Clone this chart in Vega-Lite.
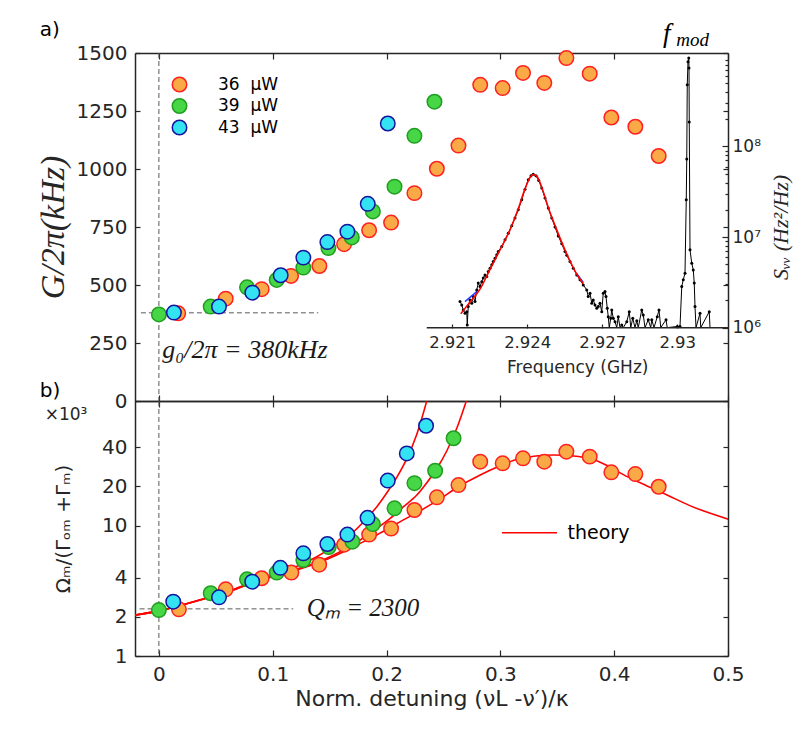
{
  "$schema": "https://vega.github.io/schema/vega-lite/v6.json",
  "background": "white",
  "autosize": {"type": "pad"},
  "padding": {"left": 36, "top": 19, "right": 5, "bottom": 5},
  "datasets": {
    "gain": [
      {"series": "36 μW", "x": 0.017, "g": 378}, {"series": "36 μW", "x": 0.0587, "g": 441},
      {"series": "36 μW", "x": 0.0903, "g": 482}, {"series": "36 μW", "x": 0.1161, "g": 539},
      {"series": "36 μW", "x": 0.141, "g": 582}, {"series": "36 μW", "x": 0.1627, "g": 676},
      {"series": "36 μW", "x": 0.1847, "g": 736}, {"series": "36 μW", "x": 0.204, "g": 769},
      {"series": "36 μW", "x": 0.2245, "g": 896}, {"series": "36 μW", "x": 0.2442, "g": 1001},
      {"series": "36 μW", "x": 0.2632, "g": 1101}, {"series": "36 μW", "x": 0.2823, "g": 1363},
      {"series": "36 μW", "x": 0.302, "g": 1349}, {"series": "36 μW", "x": 0.3199, "g": 1414},
      {"series": "36 μW", "x": 0.3386, "g": 1371}, {"series": "36 μW", "x": 0.358, "g": 1478},
      {"series": "36 μW", "x": 0.3785, "g": 1411}, {"series": "36 μW", "x": 0.3975, "g": 1222},
      {"series": "36 μW", "x": 0.4186, "g": 1182}, {"series": "36 μW", "x": 0.4391, "g": 1056},
      {"series": "39 μW", "x": 0.0, "g": 373}, {"series": "39 μW", "x": 0.0455, "g": 407},
      {"series": "39 μW", "x": 0.0774, "g": 490}, {"series": "39 μW", "x": 0.1035, "g": 522},
      {"series": "39 μW", "x": 0.1269, "g": 575}, {"series": "39 μW", "x": 0.1489, "g": 659},
      {"series": "39 μW", "x": 0.1695, "g": 705}, {"series": "39 μW", "x": 0.188, "g": 817},
      {"series": "39 μW", "x": 0.207, "g": 924}, {"series": "39 μW", "x": 0.2245, "g": 1143},
      {"series": "39 μW", "x": 0.2421, "g": 1290},
      {"series": "43 μW", "x": 0.0132, "g": 381}, {"series": "43 μW", "x": 0.0528, "g": 407},
      {"series": "43 μW", "x": 0.0821, "g": 467}, {"series": "43 μW", "x": 0.107, "g": 542},
      {"series": "43 μW", "x": 0.1269, "g": 618}, {"series": "43 μW", "x": 0.148, "g": 685},
      {"series": "43 μW", "x": 0.1656, "g": 730}, {"series": "43 μW", "x": 0.1835, "g": 850},
      {"series": "43 μW", "x": 0.2011, "g": 1196}
    ],
    "quality": [
      {"series": "36 μW", "x": 0.0176, "q": 2.28}, {"series": "36 μW", "x": 0.0587, "q": 3.25},
      {"series": "36 μW", "x": 0.0903, "q": 3.95}, {"series": "36 μW", "x": 0.1164, "q": 4.37},
      {"series": "36 μW", "x": 0.1408, "q": 5.02}, {"series": "36 μW", "x": 0.1628, "q": 7.15},
      {"series": "36 μW", "x": 0.1847, "q": 8.55}, {"series": "36 μW", "x": 0.204, "q": 9.5},
      {"series": "36 μW", "x": 0.2245, "q": 13.2}, {"series": "36 μW", "x": 0.2442, "q": 16.5},
      {"series": "36 μW", "x": 0.2632, "q": 20.5}, {"series": "36 μW", "x": 0.2823, "q": 31.0},
      {"series": "36 μW", "x": 0.302, "q": 30.1}, {"series": "36 μW", "x": 0.3199, "q": 32.9},
      {"series": "36 μW", "x": 0.3386, "q": 31.0}, {"series": "36 μW", "x": 0.358, "q": 37.0},
      {"series": "36 μW", "x": 0.3785, "q": 33.9}, {"series": "36 μW", "x": 0.3975, "q": 25.7},
      {"series": "36 μW", "x": 0.4186, "q": 24.9}, {"series": "36 μW", "x": 0.4391, "q": 19.9},
      {"series": "39 μW", "x": 0.0, "q": 2.25}, {"series": "39 μW", "x": 0.0455, "q": 3.03},
      {"series": "39 μW", "x": 0.0774, "q": 3.88}, {"series": "39 μW", "x": 0.1035, "q": 4.37},
      {"series": "39 μW", "x": 0.1269, "q": 5.45}, {"series": "39 μW", "x": 0.1492, "q": 6.85},
      {"series": "39 μW", "x": 0.17, "q": 7.54}, {"series": "39 μW", "x": 0.188, "q": 10.3},
      {"series": "39 μW", "x": 0.207, "q": 13.6}, {"series": "39 μW", "x": 0.2245, "q": 21.2},
      {"series": "39 μW", "x": 0.2427, "q": 26.4}, {"series": "39 μW", "x": 0.2589, "q": 46.9},
      {"series": "43 μW", "x": 0.0126, "q": 2.61}, {"series": "43 μW", "x": 0.0528, "q": 2.82},
      {"series": "43 μW", "x": 0.082, "q": 3.72}, {"series": "43 μW", "x": 0.1067, "q": 4.75},
      {"series": "43 μW", "x": 0.1269, "q": 6.14}, {"series": "43 μW", "x": 0.148, "q": 7.24},
      {"series": "43 μW", "x": 0.1656, "q": 8.55}, {"series": "43 μW", "x": 0.1833, "q": 11.5},
      {"series": "43 μW", "x": 0.2011, "q": 22.2}, {"series": "43 μW", "x": 0.2178, "q": 35.9},
      {"series": "43 μW", "x": 0.2347, "q": 58.5}
    ],
    "theory": [
      {"curve": "36 μW", "x": -0.0211, "q": 2.06}, {"curve": "36 μW", "x": 0.0, "q": 2.22},
      {"curve": "36 μW", "x": 0.0361, "q": 2.69}, {"curve": "36 μW", "x": 0.0654, "q": 3.21},
      {"curve": "36 μW", "x": 0.0888, "q": 3.83}, {"curve": "36 μW", "x": 0.1035, "q": 4.13},
      {"curve": "36 μW", "x": 0.1211, "q": 4.57}, {"curve": "36 μW", "x": 0.1387, "q": 5.14},
      {"curve": "36 μW", "x": 0.1563, "q": 5.96}, {"curve": "36 μW", "x": 0.1739, "q": 7.11},
      {"curve": "36 μW", "x": 0.1915, "q": 8.49}, {"curve": "36 μW", "x": 0.2091, "q": 10.4},
      {"curve": "36 μW", "x": 0.2266, "q": 12.6}, {"curve": "36 μW", "x": 0.2442, "q": 15.5},
      {"curve": "36 μW", "x": 0.2632, "q": 19.9}, {"curve": "36 μW", "x": 0.2823, "q": 24.5},
      {"curve": "36 μW", "x": 0.2999, "q": 28.8}, {"curve": "36 μW", "x": 0.3146, "q": 32.4},
      {"curve": "36 μW", "x": 0.3292, "q": 34.1}, {"curve": "36 μW", "x": 0.3468, "q": 34.9},
      {"curve": "36 μW", "x": 0.3644, "q": 34.3}, {"curve": "36 μW", "x": 0.3791, "q": 32.6},
      {"curve": "36 μW", "x": 0.3938, "q": 29.0}, {"curve": "36 μW", "x": 0.4114, "q": 23.8},
      {"curve": "36 μW", "x": 0.4289, "q": 20.2}, {"curve": "36 μW", "x": 0.4465, "q": 17.2},
      {"curve": "36 μW", "x": 0.467, "q": 14.2}, {"curve": "36 μW", "x": 0.5007, "q": 11.2},
      {"curve": "39 μW", "x": -0.0211, "q": 2.06}, {"curve": "39 μW", "x": 0.0, "q": 2.22},
      {"curve": "39 μW", "x": 0.0361, "q": 2.69}, {"curve": "39 μW", "x": 0.0654, "q": 3.21},
      {"curve": "39 μW", "x": 0.0888, "q": 3.85}, {"curve": "39 μW", "x": 0.1035, "q": 4.18},
      {"curve": "39 μW", "x": 0.1181, "q": 4.57}, {"curve": "39 μW", "x": 0.1328, "q": 4.99},
      {"curve": "39 μW", "x": 0.1475, "q": 5.62}, {"curve": "39 μW", "x": 0.1621, "q": 6.51},
      {"curve": "39 μW", "x": 0.1768, "q": 7.77}, {"curve": "39 μW", "x": 0.1915, "q": 9.55},
      {"curve": "39 μW", "x": 0.2032, "q": 11.4}, {"curve": "39 μW", "x": 0.2149, "q": 14.0},
      {"curve": "39 μW", "x": 0.2266, "q": 17.2}, {"curve": "39 μW", "x": 0.2354, "q": 21.4},
      {"curve": "39 μW", "x": 0.2442, "q": 27.5}, {"curve": "39 μW", "x": 0.253, "q": 37.6},
      {"curve": "39 μW", "x": 0.2618, "q": 56.2}, {"curve": "39 μW", "x": 0.2706, "q": 93.3},
      {"curve": "43 μW", "x": -0.0211, "q": 2.06}, {"curve": "43 μW", "x": 0.0, "q": 2.22},
      {"curve": "43 μW", "x": 0.0361, "q": 2.7}, {"curve": "43 μW", "x": 0.0654, "q": 3.24},
      {"curve": "43 μW", "x": 0.0888, "q": 3.9}, {"curve": "43 μW", "x": 0.1093, "q": 4.44},
      {"curve": "43 μW", "x": 0.124, "q": 4.99}, {"curve": "43 μW", "x": 0.1387, "q": 5.78},
      {"curve": "43 μW", "x": 0.1533, "q": 6.9}, {"curve": "43 μW", "x": 0.168, "q": 8.49},
      {"curve": "43 μW", "x": 0.1827, "q": 11.4}, {"curve": "43 μW", "x": 0.1915, "q": 14.0},
      {"curve": "43 μW", "x": 0.2003, "q": 17.9}, {"curve": "43 μW", "x": 0.2091, "q": 23.6},
      {"curve": "43 μW", "x": 0.2179, "q": 32.9}, {"curve": "43 μW", "x": 0.2266, "q": 50.4},
      {"curve": "43 μW", "x": 0.236, "q": 95.0}
    ],
    "spectrum": [
      {"f": 2.92131, "s": 1.94e6}, {"f": 2.92138, "s": 1.78e6}, {"f": 2.92144, "s": 1.57e6},
      {"f": 2.92151, "s": 1.44e6}, {"f": 2.92158, "s": 1.5e6}, {"f": 2.9216, "s": 1.07e6},
      {"f": 2.92164, "s": 1.71e6}, {"f": 2.92171, "s": 2.02e6}, {"f": 2.92178, "s": 1.86e6},
      {"f": 2.92184, "s": 2.2e6}, {"f": 2.92191, "s": 1.94e6}, {"f": 2.92198, "s": 2.61e6},
      {"f": 2.92204, "s": 3.1e6}, {"f": 2.92211, "s": 2.84e6}, {"f": 2.92218, "s": 3.22e6},
      {"f": 2.92224, "s": 3.52e6}, {"f": 2.92231, "s": 3.82e6}, {"f": 2.92238, "s": 3.66e6},
      {"f": 2.92244, "s": 4.16e6}, {"f": 2.92251, "s": 4.53e6}, {"f": 2.92258, "s": 4.93e6},
      {"f": 2.92264, "s": 5.36e6}, {"f": 2.92271, "s": 5.84e6}, {"f": 2.92278, "s": 6.36e6},
      {"f": 2.92284, "s": 6.92e6}, {"f": 2.92298, "s": 7.85e6}, {"f": 2.92311, "s": 9.31e6},
      {"f": 2.92324, "s": 1.1e7}, {"f": 2.92338, "s": 1.33e7}, {"f": 2.92351, "s": 1.62e7},
      {"f": 2.92364, "s": 2.0e7}, {"f": 2.92378, "s": 2.58e7}, {"f": 2.92391, "s": 3.38e7},
      {"f": 2.92404, "s": 4.29e7}, {"f": 2.92415, "s": 4.75e7}, {"f": 2.92424, "s": 4.95e7},
      {"f": 2.92435, "s": 4.75e7}, {"f": 2.92446, "s": 4.21e7}, {"f": 2.92458, "s": 3.47e7},
      {"f": 2.92471, "s": 2.69e7}, {"f": 2.92484, "s": 2.09e7}, {"f": 2.92498, "s": 1.62e7},
      {"f": 2.92511, "s": 1.29e7}, {"f": 2.92524, "s": 1.03e7}, {"f": 2.92538, "s": 8.41e6},
      {"f": 2.92551, "s": 6.92e6}, {"f": 2.92558, "s": 6.3e6}, {"f": 2.92571, "s": 5.36e6},
      {"f": 2.92584, "s": 4.53e6}, {"f": 2.92598, "s": 3.82e6}, {"f": 2.92611, "s": 3.37e6},
      {"f": 2.92624, "s": 2.96e6}, {"f": 2.92638, "s": 2.61e6}, {"f": 2.92644, "s": 2.2e6},
      {"f": 2.92651, "s": 2.4e6}, {"f": 2.92658, "s": 1.86e6}, {"f": 2.92664, "s": 2.02e6},
      {"f": 2.92671, "s": 1.78e6}, {"f": 2.92678, "s": 1.64e6}, {"f": 2.92684, "s": 1.71e6},
      {"f": 2.92691, "s": 1.86e6}, {"f": 2.92698, "s": 1.5e6}, {"f": 2.92704, "s": 2.4e6},
      {"f": 2.92711, "s": 2.5e6}, {"f": 2.92715, "s": 2.2e6}, {"f": 2.9272, "s": 1.64e6},
      {"f": 2.92724, "s": 1.32e6}, {"f": 2.92728, "s": 1.0e6}, {"f": 2.92734, "s": 1.27e6},
      {"f": 2.92738, "s": 1.57e6}, {"f": 2.92744, "s": 1.27e6}, {"f": 2.92751, "s": 1.16e6},
      {"f": 2.92758, "s": 1.0e6}, {"f": 2.92764, "s": 1.32e6}, {"f": 2.92771, "s": 1.0e6},
      {"f": 2.92778, "s": 1.07e6}, {"f": 2.92784, "s": 1.0e6}, {"f": 2.92798, "s": 1.16e6},
      {"f": 2.92808, "s": 1.5e6}, {"f": 2.92814, "s": 1.0e6}, {"f": 2.92822, "s": 1.27e6},
      {"f": 2.92831, "s": 1.0e6}, {"f": 2.92838, "s": 1.19e6}, {"f": 2.92844, "s": 1.0e6},
      {"f": 2.92858, "s": 1.57e6}, {"f": 2.92864, "s": 1.38e6}, {"f": 2.92871, "s": 1.0e6},
      {"f": 2.92884, "s": 1.22e6}, {"f": 2.92894, "s": 1.0e6}, {"f": 2.92898, "s": 1.22e6},
      {"f": 2.92907, "s": 1.0e6}, {"f": 2.9292, "s": 1.32e6}, {"f": 2.92927, "s": 1.57e6},
      {"f": 2.92934, "s": 1.0e6}, {"f": 2.92955, "s": 1.22e6}, {"f": 2.9296, "s": 1.0e6},
      {"f": 2.93, "s": 1.03e6}, {"f": 2.93011, "s": 1.03e6}, {"f": 2.93018, "s": 2.84e6},
      {"f": 2.93024, "s": 3.37e6}, {"f": 2.93031, "s": 3.99e6}, {"f": 2.93036, "s": 2.58e7},
      {"f": 2.93038, "s": 7.26e7}, {"f": 2.9304, "s": 4.81e8}, {"f": 2.93043, "s": 8.63e8},
      {"f": 2.93046, "s": 9.48e8}, {"f": 2.93047, "s": 7.35e8}, {"f": 2.93048, "s": 1.86e8},
      {"f": 2.93051, "s": 7.22e6}, {"f": 2.93058, "s": 5.15e6}, {"f": 2.93064, "s": 4.34e6},
      {"f": 2.93068, "s": 3.1e6}, {"f": 2.93071, "s": 1.71e6}, {"f": 2.93075, "s": 1.0e6},
      {"f": 2.93091, "s": 1.44e6}, {"f": 2.93094, "s": 1.0e6}, {"f": 2.93128, "s": 1.5e6},
      {"f": 2.93131, "s": 1.0e6}
    ],
    "fit": [
      {"f": 2.92134, "s": 1.42e6}, {"f": 2.92171, "s": 1.92e6}, {"f": 2.92211, "s": 2.66e6},
      {"f": 2.92251, "s": 4.4e6}, {"f": 2.92291, "s": 7.22e6}, {"f": 2.92331, "s": 1.2e7},
      {"f": 2.92364, "s": 2.05e7}, {"f": 2.92391, "s": 3.4e7}, {"f": 2.92411, "s": 4.55e7},
      {"f": 2.92424, "s": 4.9e7}, {"f": 2.92438, "s": 4.7e7}, {"f": 2.92458, "s": 3.55e7},
      {"f": 2.92484, "s": 2.12e7}, {"f": 2.92518, "s": 1.2e7}, {"f": 2.92558, "s": 6.5e6},
      {"f": 2.92598, "s": 3.9e6}, {"f": 2.92624, "s": 3.05e6}
    ],
    "fitBlue": [
      {"seg": "low", "f": 2.92151, "s": 1.94e6}, {"seg": "low", "f": 2.92198, "s": 2.5e6},
      {"seg": "high", "f": 2.92598, "s": 3.95e6}, {"seg": "high", "f": 2.92624, "s": 3.15e6}
    ]
  },
  "vconcat": [
    {
      "width": 593,
      "height": 348,
      "layer": [
        {
          "layer": [
            {
              "data": {"values": [{}]},
              "mark": {"type": "rule", "color": "#5a5a5a", "strokeDash": [5, 3], "strokeWidth": 1},
              "encoding": {
                "x": {"datum": -0.0158, "type": "quantitative",
                      "axis": {"orient": "top", "values": [0, 0.1, 0.2, 0.3, 0.4, 0.5], "labels": false, "tickSize": -6, "title": null}},
                "x2": {"datum": 0.14},
                "y": {"datum": 380, "type": "quantitative",
                      "axis": {"orient": "right", "values": [0, 250, 500, 750, 1000, 1250, 1500], "labels": false, "tickSize": -5, "title": null}}
              }
            },
            {
              "data": {"values": [{}]},
              "mark": {"type": "rule", "color": "#5a5a5a", "strokeDash": [5, 3], "strokeWidth": 1},
              "encoding": {"x": {"datum": 0, "type": "quantitative", "axis": null}}
            },
            {
              "data": {"name": "gain"},
              "mark": {"type": "point", "filled": true, "size": 210, "strokeWidth": 1.5, "opacity": 1},
              "encoding": {
                "x": {"field": "x", "type": "quantitative",
                      "scale": {"domain": [-0.021, 0.5], "nice": false, "zero": false},
                      "axis": {"orient": "bottom", "values": [0, 0.1, 0.2, 0.3, 0.4, 0.5], "labels": false, "tickSize": -6, "title": null}},
                "y": {"field": "g", "type": "quantitative",
                      "scale": {"domain": [0, 1500], "nice": false},
                      "axis": {"orient": "left", "values": [0, 250, 500, 750, 1000, 1250, 1500], "format": "d",
                               "tickSize": -5, "labelPadding": 13, "labelFlush": false,
                               "title": "G/2π(kHz)", "titleFont": "Liberation Serif", "titleFontStyle": "italic",
                               "titleFontSize": 34, "titlePadding": 6}},
                "color": {"field": "series", "type": "nominal",
                          "scale": {"domain": ["36 μW", "39 μW", "43 μW"], "range": ["#f9a945", "#46d646", "#33e3f2"]},
                          "legend": {"orient": "none", "legendX": 36, "legendY": 23, "title": null, "padding": 0,
                                     "labelFontSize": 17, "labelColor": "#000", "symbolSize": 210, "symbolStrokeWidth": 1.5,
                                     "rowPadding": 0.5, "labelOffset": 30,
                                     "labelExpr": "replace(datum.label, ' ', '\u00a0\u00a0')"}},
                "stroke": {"field": "series", "type": "nominal",
                           "scale": {"domain": ["36 μW", "39 μW", "43 μW"], "range": ["#ff2020", "#1f9e1f", "#14149e"]},
                           "legend": {"orient": "none", "legendX": 36, "legendY": 23, "title": null, "padding": 0,
                                      "labelFontSize": 17, "labelColor": "#000", "symbolSize": 210, "symbolStrokeWidth": 1.5,
                                      "rowPadding": 0.5, "labelOffset": 30,
                                      "labelExpr": "replace(datum.label, ' ', '\u00a0\u00a0')"}}
              }
            },
            {
              "data": {"values": [{}]},
              "mark": {"type": "text", "text": "g₀/2π = 380kHz", "font": "Liberation Serif", "fontStyle": "italic",
                       "fontSize": 26, "align": "left", "baseline": "middle", "color": "#1a1a1a"},
              "encoding": {"x": {"datum": 0.003, "type": "quantitative", "axis": null},
                           "y": {"datum": 220, "type": "quantitative", "axis": null}}
            },
            {
              "data": {"values": [{}]},
              "mark": {"type": "text", "text": "a)", "fontSize": 20, "align": "left", "baseline": "middle", "color": "#000"},
              "encoding": {"x": {"datum": -0.1047, "type": "quantitative", "axis": null},
                           "y": {"datum": 1600, "type": "quantitative", "axis": null}}
            },
            {
              "data": {"values": [{}]},
              "mark": {"type": "text", "text": "b)", "fontSize": 20, "align": "left", "baseline": "middle", "color": "#000"},
              "encoding": {"x": {"datum": -0.1047, "type": "quantitative", "axis": null},
                           "y": {"datum": 45, "type": "quantitative", "axis": null}}
            }
          ],
          "resolve": {"axis": {"x": "independent", "y": "independent"}}
        },
        {
          "layer": [
            {
              "data": {"name": "spectrum"},
              "mark": {"type": "line", "color": "#000", "strokeWidth": 1},
              "encoding": {
                "x": {"field": "f", "type": "quantitative",
                      "scale": {"domain": [2.90831, 2.93203], "nice": false, "zero": false},
                      "axis": {"orient": "bottom", "offset": -73, "values": [2.921, 2.924, 2.927, 2.93], "format": ".4~r",
                               "domain": false, "tickSize": -4, "labelFontSize": 16.5, "labelPadding": 10, "labelFlush": false, "title": null}},
                "y": {"field": "s", "type": "quantitative",
                      "scale": {"type": "log", "domain": [154900, 1076000000], "nice": false},
                      "axis": {"orient": "right", "values": [1000000, 10000000, 100000000], "domain": false,
                               "labelExpr": "datum.value < 5e6 ? '10⁶' : datum.value < 5e7 ? '10⁷' : '10⁸'",
                               "tickSize": -6, "labelFontSize": 17, "labelPadding": 10,
                               "title": "Sᵥᵥ (Hz²/Hz)", "titleFont": "Liberation Serif", "titleFontStyle": "italic",
                               "titleFontSize": 22, "titleAngle": 270, "titleBaseline": "top", "titlePadding": 10}}
              }
            },
            {
              "data": {"name": "spectrum"},
              "transform": [{"filter": "datum.s > 1000000"}],
              "mark": {"type": "circle", "color": "#000", "size": 9, "opacity": 1},
              "encoding": {
                "x": {"field": "f", "type": "quantitative", "axis": null},
                "y": {"field": "s", "type": "quantitative", "axis": null}
              }
            },
            {
              "data": {"name": "fitBlue"},
              "mark": {"type": "line", "color": "#1f3cff", "strokeWidth": 1.5},
              "encoding": {
                "x": {"field": "f", "type": "quantitative", "axis": null},
                "y": {"field": "s", "type": "quantitative", "axis": null},
                "detail": {"field": "seg"}
              }
            },
            {
              "data": {"name": "fit"},
              "mark": {"type": "line", "color": "#ff0000", "strokeWidth": 1.6, "interpolate": "monotone"},
              "encoding": {
                "x": {"field": "f", "type": "quantitative", "axis": null},
                "y": {"field": "s", "type": "quantitative",
                      "axis": {"orient": "right", "domain": false, "labels": false, "tickSize": -3, "title": null,
                               "values": [2000000, 3000000, 4000000, 5000000, 6000000, 7000000, 8000000, 9000000,
                                          20000000, 30000000, 40000000, 50000000, 60000000, 70000000, 80000000, 90000000,
                                          200000000, 300000000, 400000000, 500000000, 600000000, 700000000, 800000000, 900000000]}}
              }
            },
            {
              "data": {"values": [{}]},
              "mark": {"type": "rule", "color": "#262626", "strokeWidth": 1.5},
              "encoding": {
                "x": {"datum": 2.91998, "type": "quantitative", "axis": null},
                "x2": {"datum": 2.93203},
                "y": {"datum": 1000000, "type": "quantitative", "axis": null}
              }
            },
            {
              "data": {"values": [{}]},
              "mark": {"type": "text", "text": "Frequency (GHz)", "fontSize": 17, "align": "center", "baseline": "middle", "color": "#262626"},
              "encoding": {"x": {"datum": 2.92602, "type": "quantitative", "axis": null},
                           "y": {"datum": 359000, "type": "quantitative", "axis": null}}
            },
            {
              "data": {"values": [{}]},
              "mark": {"type": "text", "text": "f", "font": "Liberation Serif", "fontStyle": "italic", "fontSize": 27,
                       "align": "left", "baseline": "alphabetic", "color": "#000"},
              "encoding": {"x": {"datum": 2.92943, "type": "quantitative", "axis": null},
                           "y": {"datum": 1435000000, "type": "quantitative", "axis": null}}
            },
            {
              "data": {"values": [{}]},
              "mark": {"type": "text", "text": "mod", "font": "Liberation Serif", "fontStyle": "italic", "fontSize": 19,
                       "align": "left", "baseline": "alphabetic", "color": "#000"},
              "encoding": {"x": {"datum": 2.92996, "type": "quantitative", "axis": null},
                           "y": {"datum": 1280000000, "type": "quantitative", "axis": null}}
            }
          ],
          "resolve": {"axis": {"x": "independent", "y": "independent"}}
        }
      ],
      "resolve": {"scale": {"x": "independent", "y": "independent"}, "axis": {"x": "independent", "y": "independent"}}
    },
    {
      "width": 593,
      "height": 255,
      "layer": [
        {
          "data": {"values": [{}]},
          "mark": {"type": "rule", "color": "#5a5a5a", "strokeDash": [5, 3], "strokeWidth": 1},
          "encoding": {
            "x": {"datum": -0.017, "type": "quantitative",
                  "axis": {"orient": "top", "values": [0, 0.1, 0.2, 0.3, 0.4, 0.5], "labels": false, "tickSize": -6, "title": null}},
            "x2": {"datum": 0.118},
            "y": {"datum": 2.3, "type": "quantitative",
                  "axis": {"orient": "right", "values": [1, 2, 4, 10, 20, 40], "labels": false, "tickSize": -5, "title": null}}
          }
        },
        {
          "data": {"values": [{}]},
          "mark": {"type": "rule", "color": "#5a5a5a", "strokeDash": [5, 3], "strokeWidth": 1},
          "encoding": {"x": {"datum": 0, "type": "quantitative", "axis": null}}
        },
        {
          "data": {"name": "theory"},
          "mark": {"type": "line", "color": "#ff0000", "strokeWidth": 1.6, "interpolate": "monotone", "clip": true},
          "encoding": {
            "x": {"field": "x", "type": "quantitative", "axis": null},
            "y": {"field": "q", "type": "quantitative", "axis": null},
            "detail": {"field": "curve"}
          }
        },
        {
          "data": {"name": "quality"},
          "mark": {"type": "point", "filled": true, "size": 210, "strokeWidth": 1.5, "opacity": 1},
          "encoding": {
            "x": {"field": "x", "type": "quantitative",
                  "scale": {"domain": [-0.021, 0.5], "nice": false, "zero": false},
                  "axis": {"orient": "bottom", "values": [0, 0.1, 0.2, 0.3, 0.4, 0.5], "format": "~g",
                           "tickSize": -6, "labelPadding": 14, "labelFlush": false,
                           "title": "Norm. detuning (νL -ν′)/κ", "titleFontSize": 22, "titlePadding": 4}},
            "y": {"field": "q", "type": "quantitative",
                  "scale": {"type": "log", "domain": [1, 90.6], "nice": false},
                  "axis": {"orient": "left", "values": [1, 2, 4, 10, 20, 40], "format": "~g",
                           "tickSize": -5, "labelPadding": 13, "labelFlush": false,
                           "title": "Ωₘ/(Γₒₘ +Γₘ)", "titleFontSize": 20, "titlePadding": 28}},
            "color": {"field": "series", "type": "nominal",
                      "scale": {"domain": ["36 μW", "39 μW", "43 μW"], "range": ["#f9a945", "#46d646", "#33e3f2"]},
                      "legend": null},
            "stroke": {"field": "series", "type": "nominal",
                       "scale": {"domain": ["36 μW", "39 μW", "43 μW"], "range": ["#ff2020", "#1f9e1f", "#14149e"]},
                       "legend": null}
          }
        },
        {
          "data": {"values": [{}]},
          "mark": {"type": "text", "text": "Qₘ = 2300", "font": "Liberation Serif", "fontStyle": "italic",
                   "fontSize": 25, "align": "left", "baseline": "middle", "color": "#1a1a1a"},
          "encoding": {"x": {"datum": 0.13, "type": "quantitative", "axis": null},
                       "y": {"datum": 2.33, "type": "quantitative", "axis": null}}
        },
        {
          "data": {"values": [{}]},
          "mark": {"type": "rule", "color": "#ff0000", "strokeWidth": 1.6},
          "encoding": {"x": {"datum": 0.3014, "type": "quantitative", "axis": null},
                       "x2": {"datum": 0.3498},
                       "y": {"datum": 8.84, "type": "quantitative", "axis": null}}
        },
        {
          "data": {"values": [{}]},
          "mark": {"type": "text", "text": "theory", "fontSize": 19, "align": "left", "baseline": "middle", "color": "#000"},
          "encoding": {"x": {"datum": 0.359, "type": "quantitative", "axis": null},
                       "y": {"datum": 8.84, "type": "quantitative", "axis": null}}
        },
        {
          "data": {"values": [{}]},
          "mark": {"type": "text", "text": "×10³", "fontSize": 17, "align": "left", "baseline": "middle", "color": "#262626"},
          "encoding": {"x": {"datum": -0.1003, "type": "quantitative", "axis": null},
                       "y": {"datum": 70.7, "type": "quantitative", "axis": null}}
        }
      ],
      "resolve": {"axis": {"x": "independent", "y": "independent"}}
    }
  ],
  "spacing": 0,
  "bounds": "flush",
  "resolve": {"scale": {"x": "independent", "y": "independent", "color": "independent", "stroke": "independent"}},
  "config": {
    "view": {"stroke": null},
    "font": "DejaVu Sans",
    "axis": {
      "grid": false,
      "labelFont": "DejaVu Sans",
      "labelFontSize": 20,
      "labelColor": "#262626",
      "titleFont": "DejaVu Sans",
      "titleFontWeight": "normal",
      "titleColor": "#262626",
      "domainColor": "#262626",
      "domainWidth": 1.5,
      "tickColor": "#262626",
      "tickWidth": 1.2
    },
    "legend": {"labelFont": "DejaVu Sans"},
    "text": {"font": "DejaVu Sans"}
  }
}
